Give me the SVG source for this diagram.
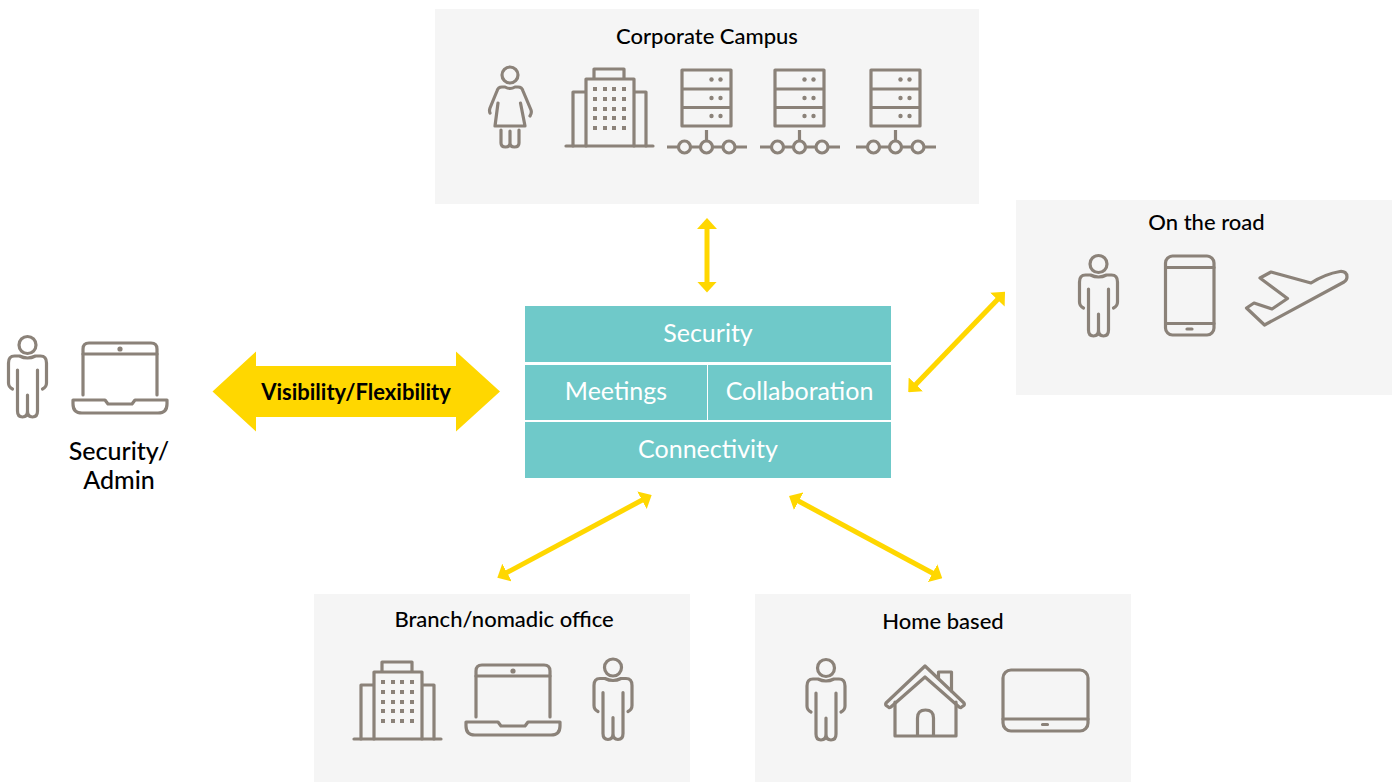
<svg xmlns="http://www.w3.org/2000/svg" width="1396" height="782" viewBox="0 0 1396 782">
<style>
text{font-family:Lato,"Open Sans","Liberation Sans",sans-serif;text-anchor:middle}
.panel{fill:#f5f5f5}
.ttl{font-size:22px;font-weight:500;fill:#000}
.cell{fill:#6fc9c9}
.ct{font-size:25px;fill:#fff}
.ic{fill:none;stroke:#8b8279;stroke-width:3.200;stroke-linecap:round;stroke-linejoin:round}
.f{fill:#8b8279;stroke:none}
.conn{stroke:#ffd700;stroke-width:5;fill:none;marker-start:url(#ah);marker-end:url(#ah)}
</style>
<defs>
<marker id="ah" viewBox="0 0 11 20" refX="4" refY="10" markerWidth="11" markerHeight="20" markerUnits="userSpaceOnUse" orient="auto-start-reverse"><path d="M0,0L11,10L0,20Z" fill="#ffd700"/></marker>
<g id="person" class="ic"><circle cx="0" cy="0" r="8.500"/><path d="M-15,44Q-19,42-19,38L-19,18Q-19,11-13,11L-8,11Q0,15 8,11L13,11Q19,11 19,18L19,38Q19,42 15,44"/><path d="M-10,25V66Q-10,72-5,72Q0,72 0,66V50V66Q0,72 5,72Q10,72 10,66V25"/></g>
<g id="laptop" class="ic"><path d="M83,395V349Q83,343 89,343H151Q157,343 157,349V395"/><path d="M83,354H157"/><circle class="f" cx="120" cy="349" r="2.600"/><path d="M73,400H105L108,404H132L135,400H167V404Q167,413 158,413H82Q73,413 73,404Z"/></g>
<g id="building" class="ic"><path d="M566,146H653"/><path d="M573,146V92H586M646,146V92H634M586,146V79H634V146M594,79V69H624V79"/>
<path class="f" d="M593,87h4v4h-4zM603,87h4v4h-4zM612,87h4v4h-4zM622,87h4v4h-4zM593,97h4v4h-4zM603,97h4v4h-4zM612,97h4v4h-4zM622,97h4v4h-4zM593,107h4v4h-4zM603,107h4v4h-4zM612,107h4v4h-4zM622,107h4v4h-4zM593,116h4v4h-4zM603,116h4v4h-4zM612,116h4v4h-4zM622,116h4v4h-4zM593,126h4v4h-4zM603,126h4v4h-4zM612,126h4v4h-4zM622,126h4v4h-4z"/></g>
<g id="server" class="ic"><rect x="682" y="70" width="49" height="56"/><path d="M682,89H731M682,107.500H731M706.500,130V141M667,147H678M691,147H700M713,147H723M735,147H747" style="stroke-linecap:butt"/>
<circle cx="684.500" cy="147" r="6"/><circle cx="706.500" cy="147" r="6"/><circle cx="729" cy="147" r="6"/>
<g class="f"><circle cx="711.500" cy="79.500" r="2.200"/><circle cx="720.500" cy="79.500" r="2.200"/><circle cx="711.500" cy="98" r="2.200"/><circle cx="720.500" cy="98" r="2.200"/><circle cx="711.500" cy="116" r="2.200"/><circle cx="720.500" cy="116" r="2.200"/></g></g>
</defs>
<rect width="1396" height="782" fill="#fff"/>
<g id="corporate-campus">
<rect class="panel" x="435" y="9" width="544" height="195"/>
<text class="ttl" x="707" y="44">Corporate Campus</text>
<g class="ic"><circle cx="510" cy="75" r="8"/><path d="M490,113Q489,111 490,108L497,91Q498,87 502,87L505,87Q510,90 515,87L518,87Q522,87 523,91L531,110Q532,113 530,116"/><path d="M498,103L495,126H525L520.500,103M501,130V143Q501,147 505.500,147Q510,147 510,143V131V143Q510,147 514.500,147Q519,147 519,143V130"/></g>
<use href="#building"/><use href="#server"/><use href="#server" x="93"/><use href="#server" x="189"/>
</g>
<g id="on-the-road">
<rect class="panel" x="1016" y="200" width="376" height="195"/>
<text class="ttl" x="1206.500" y="230">On the road</text>
<use href="#person" x="1098.500" y="264"/>
<g class="ic"><rect x="1165.500" y="256" width="48.500" height="79" rx="7"/><path d="M1165.500,267.500H1214M1165.500,323.500H1214"/><path d="M1187,329H1192"/>
<path d="M1260,278L1271,272L1311,283Q1325,274 1340,271.500Q1347,271 1347,277Q1347,280 1344,282L1264.500,325L1246.500,308L1254,303L1272,309L1287.500,298.500Z"/></g>
</g>
<g id="security-admin">
<use href="#person" x="27.500" y="345"/>
<use href="#laptop"/>
<text x="119" y="460" font-size="25" font-weight="500" fill="#000">Security/</text>
<text x="119" y="489" font-size="25" font-weight="500" fill="#000">Admin</text>
</g>
<g id="hub">
<rect class="cell" x="525" y="306" width="366" height="56"/>
<rect class="cell" x="525" y="365" width="182" height="55"/>
<rect class="cell" x="708" y="365" width="183" height="55"/>
<rect class="cell" x="525" y="422" width="366" height="56"/>
<text class="ct" x="708" y="342">Security</text>
<text class="ct" x="616" y="400">Meetings</text>
<text class="ct" x="799.500" y="400">Collaboration</text>
<text class="ct" x="708" y="458">Connectivity</text>
</g>
<g id="visibility-flexibility">
<path d="M212.500,391.500L256,351.500V366H456V351.500L500,391.500L456,431.500V417H256V431.500Z" fill="#ffd700"/>
<text x="356" y="400" font-size="22" font-weight="700" fill="#000">Visibility/Flexibility</text>
</g>
<g id="branch-office">
<rect class="panel" x="314" y="594" width="376" height="188"/>
<text class="ttl" x="504" y="627">Branch/nomadic office</text>
<use href="#building" x="-212" y="593"/>
<use href="#laptop" x="393" y="322"/>
<use href="#person" x="613" y="667.500"/>
</g>
<g id="home-based">
<rect class="panel" x="755" y="594" width="376" height="188"/>
<text class="ttl" x="943" y="629">Home based</text>
<use href="#person" x="826" y="668"/>
<g class="ic"><path d="M938.500,678V672H951.500V691"/><path d="M925,666L964,703Q965,705 963,706L961,707.500Q960,708 958,706L925,677L892,706Q890,708 889,707.500L887,706Q885,705 886,703Z"/><path d="M895,702V736H956V702M917.500,736V718Q917.500,710 925.500,710Q933.500,710 933.500,718V736"/>
<rect x="1003" y="670" width="85" height="61" rx="8"/><path d="M1003,719H1088M1042.500,724.500H1047.500"/></g>
</g>
<g id="connectors">
<path class="conn" d="M707,225V285.500"/>
<path class="conn" d="M1000.200,296.800L913.100,387.200"/>
<path class="conn" d="M645.500,498.300L503.500,574.400"/>
<path class="conn" d="M795.200,499.300L936.100,575"/>
</g>
</svg>
